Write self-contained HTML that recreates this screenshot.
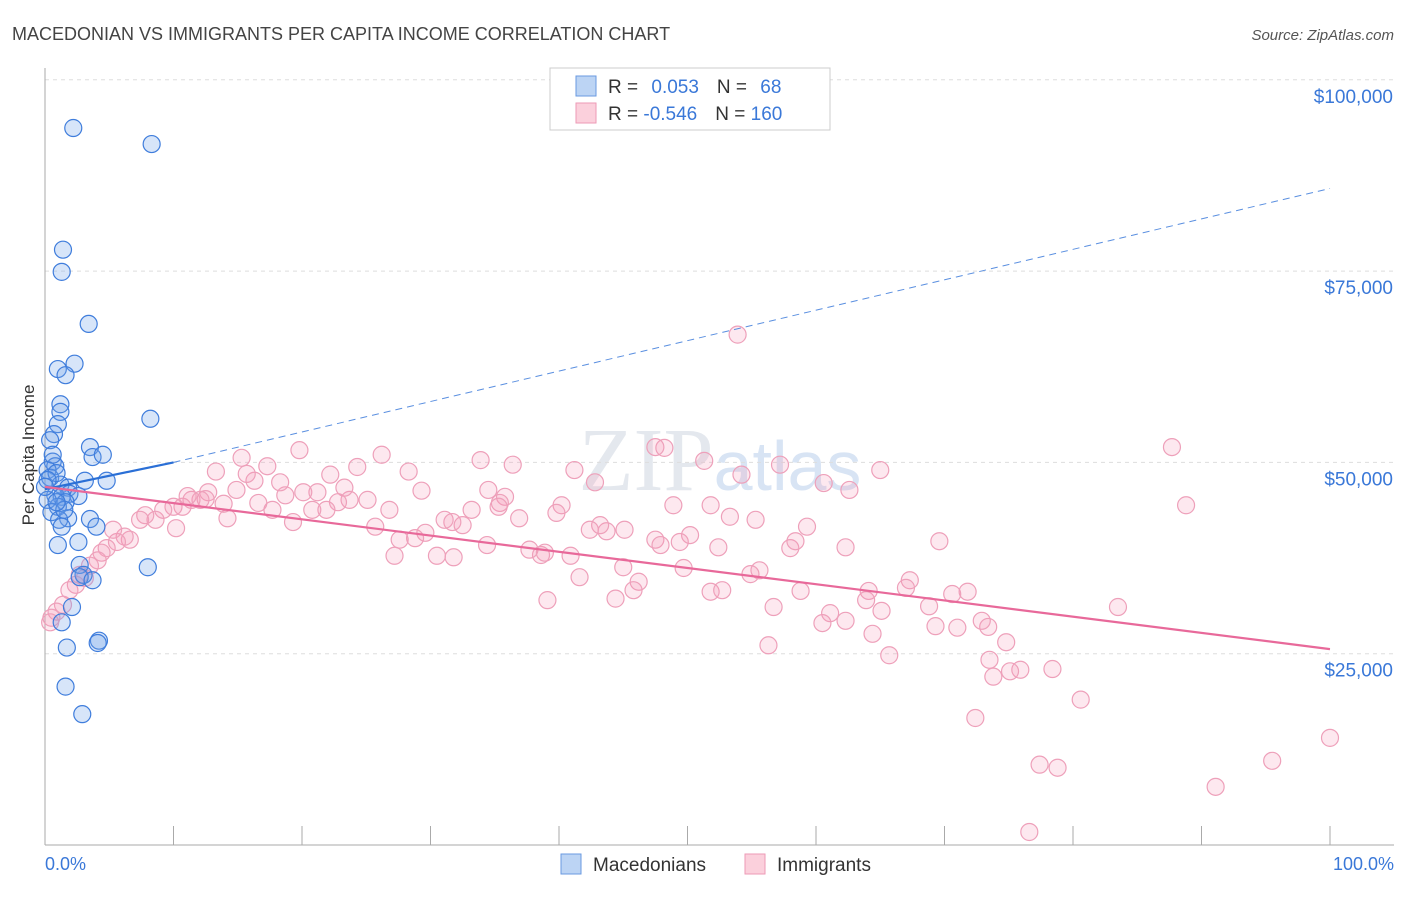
<!DOCTYPE html>
<html><head><meta charset="utf-8"><style>
body{margin:0;background:#fff;font-family:"Liberation Sans",sans-serif;}
</style></head><body>
<svg id="chart" width="1406" height="892" xmlns="http://www.w3.org/2000/svg" font-family="Liberation Sans, sans-serif">
<text x="12" y="40" font-size="18" fill="#444">MACEDONIAN VS IMMIGRANTS PER CAPITA INCOME CORRELATION CHART</text>
<text x="1394" y="40" font-size="15" fill="#555" font-style="italic" text-anchor="end">Source: ZipAtlas.com</text>
<text x="720" y="490" font-size="90" fill="#e4e8ee" text-anchor="middle" font-family="Liberation Serif, serif">ZIP<tspan font-family="Liberation Sans, sans-serif" font-size="70" fill="#d8e4f4">atlas</tspan></text>
<g id="grid"></g>
<g id="axes"></g>
<g id="marks"></g>
<text transform="translate(34,455) rotate(-90)" font-size="17" fill="#333" text-anchor="middle">Per Capita Income</text>
<text x="45" y="870" font-size="18" fill="#3a78d8">0.0%</text>
<text x="1394" y="870" font-size="18" fill="#3a78d8" text-anchor="end">100.0%</text>
<g>
<rect x="550" y="68" width="280" height="62" fill="#fff" stroke="#ccc"/>
<rect x="576" y="76" width="20" height="20" fill="#bcd4f4" stroke="#6a9ae0"/>
<rect x="576" y="103" width="20" height="20" fill="#fbd0dc" stroke="#ee9ab6"/>
<text x="608" y="93" font-size="19" fill="#333">R = <tspan fill="#3a78d8" dx="8">0.053</tspan><tspan dx="18">N = </tspan><tspan fill="#3a78d8" dx="8">68</tspan></text>
<text x="608" y="120" font-size="19" fill="#333">R = <tspan fill="#3a78d8">-0.546</tspan><tspan dx="18">N = </tspan><tspan fill="#3a78d8">160</tspan></text>
</g>
<g>
<rect x="561" y="854" width="20" height="20" fill="#bcd4f4" stroke="#6a9ae0"/>
<text x="593" y="871" font-size="19" fill="#333">Macedonians</text>
<rect x="745" y="854" width="20" height="20" fill="#fbd0dc" stroke="#ee9ab6"/>
<text x="777" y="871" font-size="19" fill="#333">Immigrants</text>
</g>
</svg>
<script>
const yTicks=[25000,50000,75000,100000];
const yTickLabels=["$25,000","$50,000","$75,000","$100,000"];
const xTicks=[0,10,20,30,40,50,60,70,80,90,100];
const blueX=[2.2,8.3,1.4,1.3,3.4,2.3,1.0,1.6,1.2,1.2,1.0,0.7,8.2,3.5,3.7,4.5,0.4,0.6,0.8,0.2,0.4,3.1,4.8,1.2,1.8,1.9,0.8,1.3,2.6,1.6,1.0,0.2,0.5,1.8,1.1,3.5,4.0,1.3,1.0,2.6,2.7,8.0,3.0,2.7,3.7,2.1,1.3,4.2,4.1,1.7,1.6,2.9,0.9,0.6,0.2,1.5,0.9,0.0];
const blueY=[93.7,91.6,77.8,74.9,68.1,62.9,62.2,61.4,57.6,56.6,55.0,53.7,55.7,52.0,50.7,51.0,52.9,50.1,49.5,49.0,48.0,47.6,47.6,47.1,46.7,45.9,45.7,45.5,45.6,44.8,44.2,45.1,43.5,42.7,42.5,42.6,41.6,41.6,39.2,39.6,36.6,36.3,35.3,35.0,34.6,31.1,29.1,26.7,26.4,25.8,20.7,17.1,48.6,51.0,47.7,43.8,44.8,46.8];
const pinkX=[53.9,87.7,88.8,83.5,100,95.5,91.1,76.6,78.8,77.4,80.6,72.4,78.4,75.9,75.1,73.5,73.8,74.8,73.4,72.9,71.0,69.3,68.8,71.8,70.6,69.6,67.3,67.0,65.7,64.4,65.1,64.1,63.9,62.3,61.1,60.5,56.7,56.3,58.8,55.6,54.9,58.0,58.4,59.3,62.3,60.6,62.6,65.0,57.2,54.2,51.3,48.2,55.3,53.3,51.8,52.4,50.2,48.9,49.4,47.5,47.9,49.7,46.2,45.8,45.0,44.4,43.7,43.2,42.4,45.1,40.2,39.8,41.2,42.8,40.9,41.6,39.1,38.6,37.7,38.9,36.9,36.4,35.8,35.4,34.4,35.3,34.5,33.9,33.2,32.5,31.7,31.1,31.8,30.5,29.6,28.8,27.6,27.2,28.3,29.3,26.8,26.2,25.7,24.3,25.1,23.7,23.3,22.8,21.9,22.2,20.8,21.2,20.1,19.8,19.3,18.7,18.3,17.7,17.3,16.6,16.3,15.7,15.3,14.9,14.2,13.9,13.3,12.7,12.5,12.1,11.4,10.7,11.1,10.2,10.0,9.2,8.6,7.8,7.4,6.6,6.2,5.6,5.3,4.8,4.4,4.1,3.5,3.1,2.7,2.4,1.9,1.4,0.9,0.5,0.4,51.8,52.7,47.5];
const pinkY=[66.7,52.0,44.4,31.1,14.0,11.0,7.6,1.7,10.1,10.5,19.0,16.6,23.0,22.9,22.7,24.2,22.0,26.5,28.5,29.3,28.4,28.6,31.2,33.1,32.8,39.7,34.6,33.6,24.8,27.6,30.6,33.2,32.0,29.3,30.3,29.0,31.1,26.1,33.2,35.9,35.4,38.8,39.7,41.6,38.9,47.3,46.4,49.0,49.7,48.4,50.2,51.9,42.5,42.9,44.4,38.9,40.5,44.4,39.6,39.9,39.2,36.2,34.4,33.3,36.3,32.2,41.0,41.8,41.2,41.2,44.4,43.4,49.0,47.4,37.8,35.0,32.0,37.9,38.6,38.2,42.7,49.7,45.5,44.7,39.2,44.2,46.4,50.3,43.8,41.8,42.2,42.5,37.6,37.8,40.8,40.1,39.9,37.8,48.8,46.3,43.8,51.0,41.6,49.4,45.1,45.1,46.7,44.8,43.8,48.4,43.8,46.1,46.1,51.6,42.2,45.7,47.4,43.8,49.5,44.7,47.6,48.5,50.6,46.4,42.7,44.6,48.8,46.1,45.2,45.1,45.1,44.2,45.6,41.4,44.2,43.8,42.5,43.1,42.5,39.9,40.3,39.6,41.2,38.8,38.2,37.2,36.5,34.9,35.3,34.0,33.3,31.4,30.5,29.7,29.1,33.1,33.3,52.0];
const blueTrend=[[0,46.5],[10,50.0],[100,85.8]];
const pinkTrend=[[0,46.8],[100,25.6]];
const NS="http://www.w3.org/2000/svg";
const X0=45,X1=1330,YB=845,PX_PER_K=191.3/25;
function sx(p){return X0+(X1-X0)*p/100;}
function sy(k){return YB-k*PX_PER_K;}
function mk(tag,attrs,parent){const e=document.createElementNS(NS,tag);for(const k in attrs)e.setAttribute(k,attrs[k]);parent.appendChild(e);return e;}
const grid=document.getElementById('grid'),axes=document.getElementById('axes'),marks=document.getElementById('marks');
yTicks.forEach((v,i)=>{
 const y=sy(v/1000);
 const l=mk('line',{x1:X0,x2:1394,y1:y,y2:y,stroke:'#ddd','stroke-dasharray':'4,4'},grid);
 
 
 const t=mk('text',{x:1393,y:y+23,'font-size':19,fill:'#3a78d8','text-anchor':'end'},axes);
 t.textContent=yTickLabels[i];
 
 
});
const al=mk('line',{x1:X0,x2:X0,y1:68,y2:YB,stroke:'#aaa'},axes);


const bl=mk('line',{x1:X0,x2:1394,y1:YB,y2:YB,stroke:'#aaa'},axes);


xTicks.forEach(v=>{
 const x=sx(v);
 const t=mk('line',{x1:x,x2:x,y1:826,y2:YB,stroke:'#aaa'},axes);
 
 
});
pinkX.forEach((p,i)=>{
 const c=mk('circle',{cx:sx(p),cy:sy(pinkY[i]),r:8.5,fill:'rgba(244,150,180,0.22)',stroke:'#eea0ba','stroke-width':1.2},marks);
 
 
});
blueX.forEach((p,i)=>{
 const c=mk('circle',{cx:sx(p),cy:sy(blueY[i]),r:8.5,fill:'rgba(110,160,235,0.28)',stroke:'#3f7ddc','stroke-width':1.2},marks);
 
 
});
const bs=mk('line',{x1:sx(blueTrend[0][0]),y1:sy(blueTrend[0][1]),x2:sx(blueTrend[1][0]),y2:sy(blueTrend[1][1]),stroke:'#2a6fd6','stroke-width':2.2},marks);


const bd=mk('line',{x1:sx(blueTrend[1][0]),y1:sy(blueTrend[1][1]),x2:sx(blueTrend[2][0]),y2:sy(blueTrend[2][1]),stroke:'#5a8fe0','stroke-width':1,'stroke-dasharray':'7,5'},marks);


const pl=mk('line',{x1:sx(pinkTrend[0][0]),y1:sy(pinkTrend[0][1]),x2:sx(pinkTrend[1][0]),y2:sy(pinkTrend[1][1]),stroke:'#e8699a','stroke-width':2.2},marks);


</script>
</body></html>
